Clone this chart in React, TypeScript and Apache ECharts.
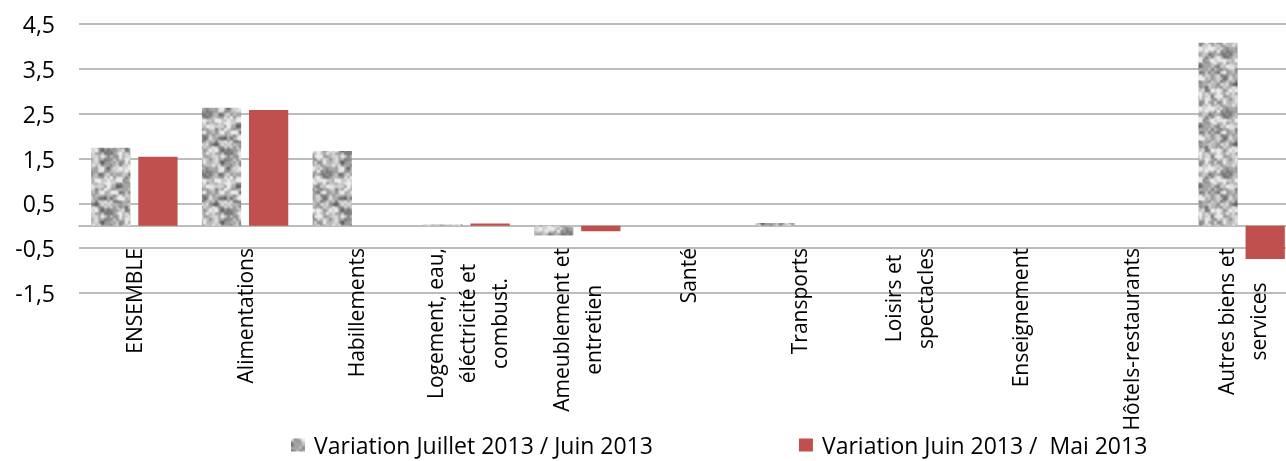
import { useEffect, useRef } from "react";
import * as echarts from "echarts";

const categories = [
  "ENSEMBLE",
  "Alimentations",
  "Habillements",
  "Logement, eau,\néléctricité et\ncombust.",
  "Ameublement et\nentretien",
  "Santé",
  "Transports",
  "Loisirs et\nspectacles",
  "Enseignement",
  "Hôtels-restaurants",
  "Autres biens et\nservices",
];
const seriesNames = [
  "Variation Juillet 2013 / Juin 2013",
  "Variation Juin 2013 /  Mai 2013",
];
const julyJune = [1.74, 2.63, 1.67, 0.03, -0.22, 0, 0.06, 0, 0, 0, 4.08];
const juneMay = [1.54, 2.58, 0, 0.05, -0.12, 0, 0, 0, 0, 0, -0.74];
const yMin = -1.5;
const yMax = 4.5;
const yStep = 1;

const FONT = "'Open Sans', 'Noto Sans', sans-serif";

function hash(i: number, j: number): number {
  const s = Math.sin(i * 12.9898 + j * 78.233 + 0.5) * 43758.5453;
  return s - Math.floor(s);
}

function makeTexture(): HTMLCanvasElement {
  const size = 60;
  const c = document.createElement("canvas");
  c.width = size;
  c.height = size;
  const ctx = c.getContext("2d")!;
  const img = ctx.createImageData(size, size);
  const octave = (x: number, y: number, cell: number) => {
    const n = size / cell;
    const fx = x / cell;
    const fy = y / cell;
    const i0 = Math.floor(fx);
    const j0 = Math.floor(fy);
    const tx = fx - i0;
    const ty = fy - j0;
    const sx = tx * tx * (3 - 2 * tx);
    const sy = ty * ty * (3 - 2 * ty);
    const a = hash(i0 % n, j0 % n);
    const b = hash((i0 + 1) % n, j0 % n);
    const cc = hash(i0 % n, (j0 + 1) % n);
    const d = hash((i0 + 1) % n, (j0 + 1) % n);
    return (a * (1 - sx) + b * sx) * (1 - sy) + (cc * (1 - sx) + d * sx) * sy;
  };
  for (let y = 0; y < size; y++) {
    for (let x = 0; x < size; x++) {
      const v = 0.6 * octave(x, y, 6) + 0.4 * octave(x, y, 3);
      let g = 80 + v * 200;
      g = Math.max(100, Math.min(235, g));
      const k = (y * size + x) * 4;
      img.data[k] = g;
      img.data[k + 1] = g;
      img.data[k + 2] = g;
      img.data[k + 3] = 255;
    }
  }
  ctx.putImageData(img, 0, 0);
  return c;
}

export default function App() {
  const ref = useRef<HTMLDivElement>(null);
  useEffect(() => {
    if (!ref.current) return;
    const chart = echarts.init(ref.current, null, { renderer: "svg" });
    const tex = makeTexture();
    const pattern: any = {
      image: tex,
      repeat: "repeat",
      imageWidth: tex.width,
      imageHeight: tex.height,
    };
    chart.setOption({
      animation: false,
      textStyle: { fontFamily: FONT },
      grid: {
        left: 79,
        right: -11,
        top: 24,
        bottom: 168,
        containLabel: false,
        outerBoundsMode: "none",
      },
      legend: {
        left: 291,
        top: 433,
        itemWidth: 14,
        itemHeight: 13,
        itemGap: 146,
        icon: "rect",
        padding: 0,
        textStyle: {
          fontFamily: FONT,
          fontSize: 23,
          lineHeight: 24,
          color: "#000",
          padding: [0, 0, 0, 4],
        },
        data: seriesNames,
      },
      xAxis: {
        type: "category",
        data: categories,
        axisTick: { show: false },
        axisLine: { show: true, lineStyle: { color: "#a6a6a6", width: 1.5 } },
        axisLabel: {
          interval: 0,
          rotate: 90,
          margin: -45,
          formatter: (v: string) =>
            v
              .split("\n")
              .map((l) => `{c|${l}}`)
              .join("\n"),
          rich: {
            c: {
              align: "center",
              fontFamily: FONT,
              fontSize: 21,
              lineHeight: 32,
              color: "#000",
            },
          },
        },
      },
      yAxis: {
        type: "value",
        min: yMin,
        max: yMax,
        interval: yStep,
        axisLine: { show: false },
        axisTick: { show: false },
        splitLine: { show: true, lineStyle: { color: "#a6a6a6", width: 1.5 } },
        axisLabel: {
          margin: 24,
          fontFamily: FONT,
          fontSize: 23,
          color: "#000",
          formatter: (v: number) => v.toFixed(1).replace(".", ","),
        },
      },
      series: [
        {
          name: seriesNames[0],
          type: "bar",
          data: julyJune,
          barGap: "20%",
          barCategoryGap: "22%",
          itemStyle: { color: pattern },
        },
        {
          name: seriesNames[1],
          type: "bar",
          data: juneMay,
          barGap: "20%",
          barCategoryGap: "22%",
          itemStyle: { color: "#c0504d" },
        },
      ],
    });
    return () => chart.dispose();
  }, []);
  return (
    <div
      ref={ref}
      style={{ position: "fixed", left: 0, top: 0, width: 1286, height: 461 }}
    />
  );
}
